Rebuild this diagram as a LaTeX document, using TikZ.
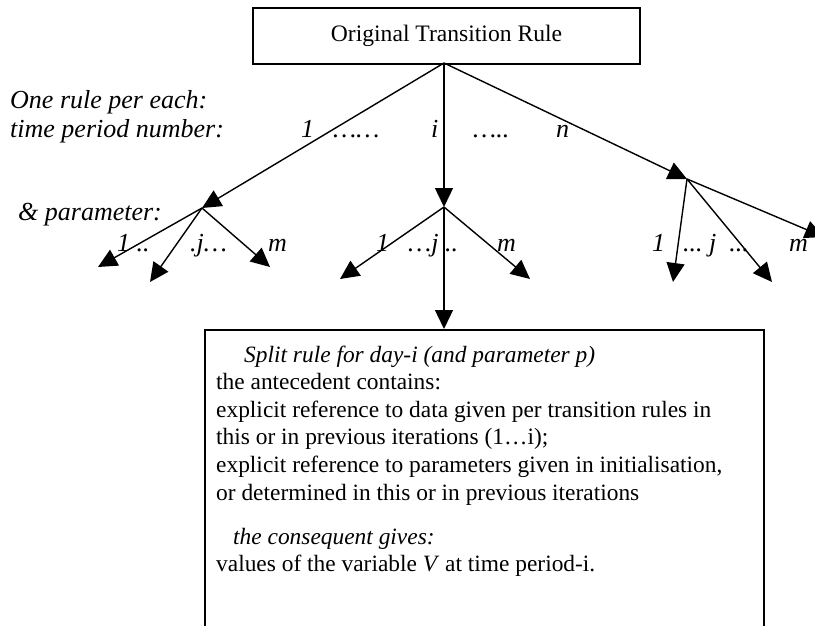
\documentclass[tikz,border=0pt]{standalone}
\usepackage{fontspec}
\setmainfont{Liberation Serif}
\usetikzlibrary{arrows.meta}
\begin{document}
\begin{tikzpicture}[x=1pt,y=-1pt,
  wire/.style={line width=1.4pt,-{Triangle[length=19pt,width=18pt]}},
  frame/.style={draw,line width=1.5pt,inner sep=0pt},
  lbl/.style={inner sep=0pt,anchor=base west,font=\fontsize{26}{30}\selectfont\itshape},
  body/.style={inner sep=0pt,anchor=base west,font=\fontsize{23.4}{27}\selectfont}]
\useasboundingbox (0,0) rectangle (815,626);

% top box
\node[frame,minimum width=387pt,minimum height=56pt,font=\fontsize{23.6}{27}\selectfont]
  (orig) at (446.5,36) {Original Transition Rule};
\coordinate (root) at (444,63);

% branch points (one per time period)
\coordinate (L) at (202,208);
\coordinate (M) at (444,207);
\coordinate (R) at (687,179);

\draw[wire] (root) -- (L);
\draw[wire] (root) -- (M);
\draw[wire] (root) -- (R);

% parameter arrows
\coordinate (l1) at (98,267);
\coordinate (l2) at (150,282);
\coordinate (l3) at (270,267);
\coordinate (m1) at (340,279);
\coordinate (m3) at (530,279);
\coordinate (r1) at (673,282);
\coordinate (r2) at (772,282);
\coordinate (r3) at (824,237);

\foreach \t in {l1,l2,l3} \draw[wire] (L) -- (\t);
\foreach \t in {m1,m3} \draw[wire] (M) -- (\t);
\foreach \t in {r1,r2,r3} \draw[wire] (R) -- (\t);

% split rule box
\node[frame,anchor=north west,minimum width=559pt,minimum height=312pt] (split) at (204,329) {};
\draw[wire] (M) -- (M |- split.north);

% left-hand labels
\node[lbl] (lab1) at (10,109) {One rule per each:};
\node[lbl] (lab2) at (10,138) {time period number:};
\node[lbl] (lab3) at (18,220) {\& parameter:};

% time period numbers
\node[lbl] (n1) at (301,138) {1};
\node[lbl] (d1) at (333,138) {……};
\node[lbl] (ni) at (431,138) {i};
\node[lbl] (d2) at (473,138) {…..};
\node[lbl] (nn) at (556,138) {n};

% parameter numbers
\node[lbl] (a1) at (117,251) {1 ..};
\node[lbl] (aj) at (190,251) {.j…};
\node[lbl] (am) at (268,251) {m};
\node[lbl] (b1) at (376,251) {1};
\node[lbl] (bj) at (408,251) {…j ..};
\node[lbl] (bm) at (497,251) {m};
\node[lbl] (c1) at (652,251) {1};
\node[lbl] (cj) at (683,251) {...\ j\ \ ...};
\node[lbl] (cm) at (789,251) {m};

% split rule text
\node[body] (s1) at (244,362) {\itshape Split rule for day-i (and parameter p)};
\node[body] (s2) at (216,389.6) {the antecedent contains:};
\node[body] (s3) at (216,417.2) {explicit reference to data given per transition rules in};
\node[body] (s4) at (216,444.8) {this or in previous iterations (1…i);};
\node[body] (s5) at (216,472.4) {explicit reference to parameters given in initialisation,};
\node[body] (s6) at (216,500) {or determined in this or in previous iterations};
\node[body] (s7) at (233,544) {\itshape the consequent gives:};
\node[body] (s8) at (216,571.6) {values of the variable \textit{V} at time period-i.};
\end{tikzpicture}
\end{document}
